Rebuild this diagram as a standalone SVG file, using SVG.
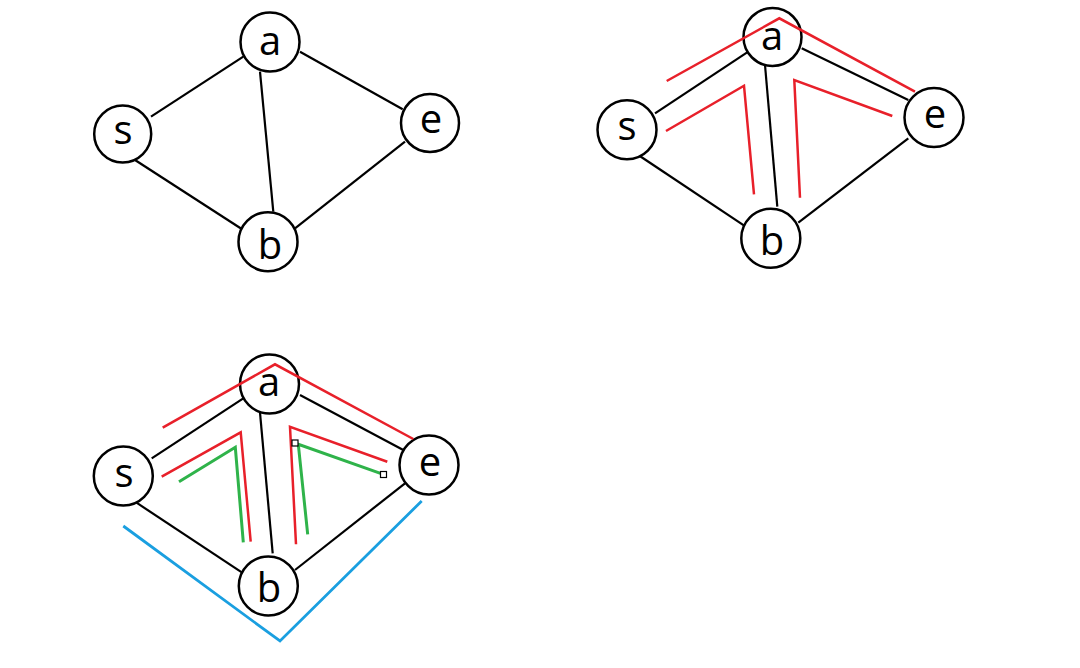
<svg xmlns="http://www.w3.org/2000/svg" width="1080" height="668" viewBox="0 0 1080 668">
<style>
.n circle{fill:#fff;stroke:#000;stroke-width:2.5}
.n text{font-family:"Open Sans","Noto Sans","DejaVu Sans",sans-serif;font-size:40px;text-anchor:middle;fill:#000}
.e line{stroke:#000;stroke-width:2.2}
.r{fill:none;stroke:#e8202a;stroke-width:2.5}
.g{fill:none;stroke:#2fb34a;stroke-width:3}
.b{fill:none;stroke:#1a9fe0;stroke-width:2.8}
.sq{fill:#fff;stroke:#000;stroke-width:1.2}
</style>
<rect width="1080" height="668" fill="#fff"/>
<!-- Graph 1 -->
<g id="edges1" class="e">
<line x1="151" y1="116.7" x2="243.3" y2="56.7"/>
<line x1="260" y1="71.7" x2="273.3" y2="211.7"/>
<line x1="300" y1="51.7" x2="402.7" y2="109.3"/>
<line x1="135" y1="160" x2="243.3" y2="230"/>
<line x1="295" y1="228.3" x2="405" y2="141.7"/>
</g>
<g id="g1-a" class="n"><circle cx="270" cy="42" r="29.5"/><text x="270" y="55">a</text></g>
<g id="g1-s" class="n"><circle cx="122.7" cy="134" r="28.5"/><text x="123" y="144">s</text></g>
<g id="g1-e" class="n"><circle cx="430" cy="123" r="29"/><text x="431" y="133">e</text></g>
<g id="g1-b" class="n"><circle cx="268" cy="241.7" r="29.5"/><text x="270" y="259">b</text></g>

<!-- Graph 2 -->
<g id="edges2" class="e">
<line x1="655" y1="113.3" x2="748.3" y2="51.7"/>
<line x1="765" y1="65" x2="777.3" y2="206.7"/>
<line x1="801.7" y1="48.3" x2="908.3" y2="100"/>
<line x1="638.3" y1="155" x2="748.3" y2="228.3"/>
<line x1="798.3" y1="222.7" x2="908.3" y2="138.3"/>
</g>
<g id="g2-a" class="n"><circle cx="772.5" cy="37" r="29"/><text x="772" y="50">a</text></g>
<g id="g2-s" class="n"><circle cx="627" cy="129.7" r="29.5"/><text x="627" y="140">s</text></g>
<g id="g2-e" class="n"><circle cx="934" cy="117.5" r="29.5"/><text x="935" y="128">e</text></g>
<g id="g2-b" class="n"><circle cx="770.8" cy="238.3" r="29.5"/><text x="772" y="255">b</text></g>
<g id="paths2">
<polyline class="r" points="666.7,81 779.3,18.3 915,91.7"/>
<polyline class="r" points="666,131 744,85.7 754,194.3"/>
<polyline class="r" points="800,197.7 794.3,80 892.3,116"/>
</g>

<!-- Graph 3 -->
<g id="edges3" class="e">
<line x1="151.7" y1="458.3" x2="243.3" y2="398.3"/>
<line x1="260" y1="412.7" x2="272.7" y2="553.3"/>
<line x1="300" y1="395" x2="403.3" y2="450"/>
<line x1="135" y1="501.7" x2="243.3" y2="573.3"/>
<line x1="295" y1="570" x2="405" y2="483.3"/>
</g>
<g id="g3-a" class="n"><circle cx="269.5" cy="384" r="29.5"/><text x="269" y="396">a</text></g>
<g id="g3-s" class="n"><circle cx="123.3" cy="476" r="29.5"/><text x="124" y="487">s</text></g>
<g id="g3-e" class="n"><circle cx="429" cy="465" r="29.5"/><text x="430" y="476">e</text></g>
<g id="g3-b" class="n"><circle cx="268.3" cy="586" r="29.5"/><text x="269" y="602">b</text></g>
<g id="paths3">
<polyline class="r" points="162.7,427.7 275,364.3 413.3,439"/>
<polyline class="r" points="161.7,476.7 240.7,432.3 250.7,541.7"/>
<polyline class="g" points="179,481.7 235.3,447.3 243.3,542.3"/>
<polyline class="r" points="296,544.3 290,426.7 387.3,461.7"/>
<polyline class="g" points="307.7,534.3 298.3,444.3 383.3,474.3"/>
<rect class="sq" x="292" y="440" width="6" height="6"/>
<rect class="sq" x="380.5" y="471.5" width="6" height="6"/>
<polyline class="b" points="123.3,526 280,641 421.7,501"/>
</g>
</svg>
